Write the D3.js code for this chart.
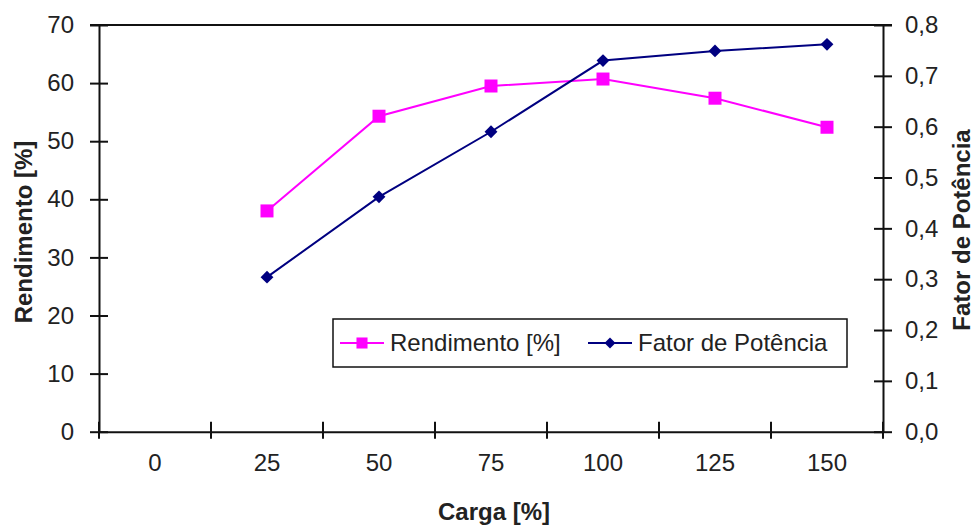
<!doctype html>
<html>
<head>
<meta charset="utf-8"/>
<title>Rendimento e Fator de Potência</title>
<script src="https://d3js.org/d3.v7.min.js"></script>
<style>
body { margin: 0; background: #fff; }
text { font-family: Arial, "Liberation Sans", sans-serif; fill: #222; }
</style>
</head>
<body>
<svg id="svg1" width="976" height="526"></svg>
<script>
// data
const cargas = ['0', '25', '50', '75', '100', '125', '150'];
const pontos = ['25', '50', '75', '100', '125', '150'];
const rendimento = [38.0, 54.3, 59.5, 60.7, 57.4, 52.4];
const fator_potencia = [0.304, 0.462, 0.590, 0.730, 0.749, 0.762];
const ticks_left = [0, 10, 20, 30, 40, 50, 60, 70];
const ticks_right = [0, 0.1, 0.2, 0.3, 0.4, 0.5, 0.6, 0.7, 0.8];

const plot_left = 99, plot_right = 883, plot_top = 25, plot_bottom = 431.7;
const pink = '#ff00ff', navy = '#000080';

const svg = d3.select('#svg1');

const x = d3.scaleBand().domain(cargas).range([plot_left, plot_right]).padding(0);
const yL = d3.scaleLinear().domain([0, 70]).range([plot_bottom, plot_top]);
const yR = d3.scaleLinear().domain([0, 0.8]).range([plot_bottom, plot_top]);

// plot border (top line)
svg.append('line')
    .attr('x1', plot_left - 9).attr('x2', plot_right + 9)
    .attr('y1', plot_top).attr('y2', plot_top)
    .style('stroke', '#111').style('stroke-width', 2);

// left axis
const gL = svg.append('g').attr('transform', `translate(${plot_left},0)`)
    .call(d3.axisLeft(yL).tickValues(ticks_left).tickSize(9).tickSizeOuter(0).tickPadding(16));
gL.selectAll('.tick line').attr('x1', 9);

// right axis
const gR = svg.append('g').attr('transform', `translate(${plot_right},0)`)
    .call(d3.axisRight(yR).tickValues(ticks_right).tickSize(9).tickSizeOuter(0).tickPadding(13)
        .tickFormat(d => d3.format('.1f')(d).replace('.', ',')));
gR.selectAll('.tick line').attr('x1', -9);

// bottom axis: labels at band centres, ticks at band edges
const gB = svg.append('g').attr('transform', `translate(0,${plot_bottom})`)
    .call(d3.axisBottom(x).tickSize(0).tickSizeOuter(0).tickPadding(22));
const edges = d3.range(cargas.length + 1).map(i => plot_left + i * x.bandwidth());
gB.selectAll('.edge').data(edges).enter().append('line')
    .attr('x1', d => d).attr('x2', d => d)
    .attr('y1', -10).attr('y2', 7)
    .style('stroke', '#111').style('stroke-width', 2);

svg.selectAll('.domain').style('stroke', '#111').style('stroke-width', 2);
svg.selectAll('.tick line').style('stroke', '#111').style('stroke-width', 2);
svg.selectAll('.tick text').style('font-size', '24px').style('fill', '#222');

// series
const cx = d => x(d) + x.bandwidth() / 2;

svg.append('path')
    .datum(pontos.map((p, i) => [cx(p), yL(rendimento[i])]))
    .attr('d', d3.line())
    .style('fill', 'none').style('stroke', pink).style('stroke-width', 2);

svg.append('path')
    .datum(pontos.map((p, i) => [cx(p), yR(fator_potencia[i])]))
    .attr('d', d3.line())
    .style('fill', 'none').style('stroke', navy).style('stroke-width', 2);

const square = d3.symbol().type(d3.symbolSquare).size(169);
const diamond = d3.symbol().type(d3.symbolDiamond2).size(105);

svg.selectAll('.sq').data(pontos).enter().append('path')
    .attr('d', square)
    .attr('transform', (p, i) => `translate(${cx(p)},${yL(rendimento[i])})`)
    .style('fill', pink);

svg.selectAll('.dm').data(pontos).enter().append('path')
    .attr('d', diamond)
    .attr('transform', (p, i) => `translate(${cx(p)},${yR(fator_potencia[i])})`)
    .style('fill', navy);

// axis titles
svg.append('text')
    .attr('transform', 'translate(32,232) rotate(-90)')
    .attr('text-anchor', 'middle')
    .style('font-size', '24px').style('font-weight', 'bold')
    .text('Rendimento [%]');

svg.append('text')
    .attr('transform', 'translate(970,230) rotate(-90)')
    .attr('text-anchor', 'middle')
    .style('font-size', '24px').style('font-weight', 'bold')
    .text('Fator de Potência');

svg.append('text')
    .attr('x', 494).attr('y', 520)
    .attr('text-anchor', 'middle')
    .style('font-size', '24px').style('font-weight', 'bold')
    .text('Carga [%]');

// legend
const lg = svg.append('g');
lg.append('rect')
    .attr('x', 333).attr('y', 319).attr('width', 514).attr('height', 48)
    .style('fill', '#fff').style('stroke', '#111').style('stroke-width', 1.5);

const items = [
    {name: 'Rendimento [%]', color: pink, sym: square, x0: 340},
    {name: 'Fator de Potência', color: navy, sym: diamond, x0: 588}
];
items.forEach(it => {
    lg.append('line')
        .attr('x1', it.x0).attr('x2', it.x0 + 44).attr('y1', 343).attr('y2', 343)
        .style('stroke', it.color).style('stroke-width', 2);
    lg.append('path')
        .attr('d', it.sym)
        .attr('transform', `translate(${it.x0 + 22},343) scale(0.85)`)
        .style('fill', it.color);
    lg.append('text')
        .attr('x', it.x0 + 50).attr('y', 351)
        .style('font-size', '24px')
        .text(it.name);
});
</script>
</body>
</html>
